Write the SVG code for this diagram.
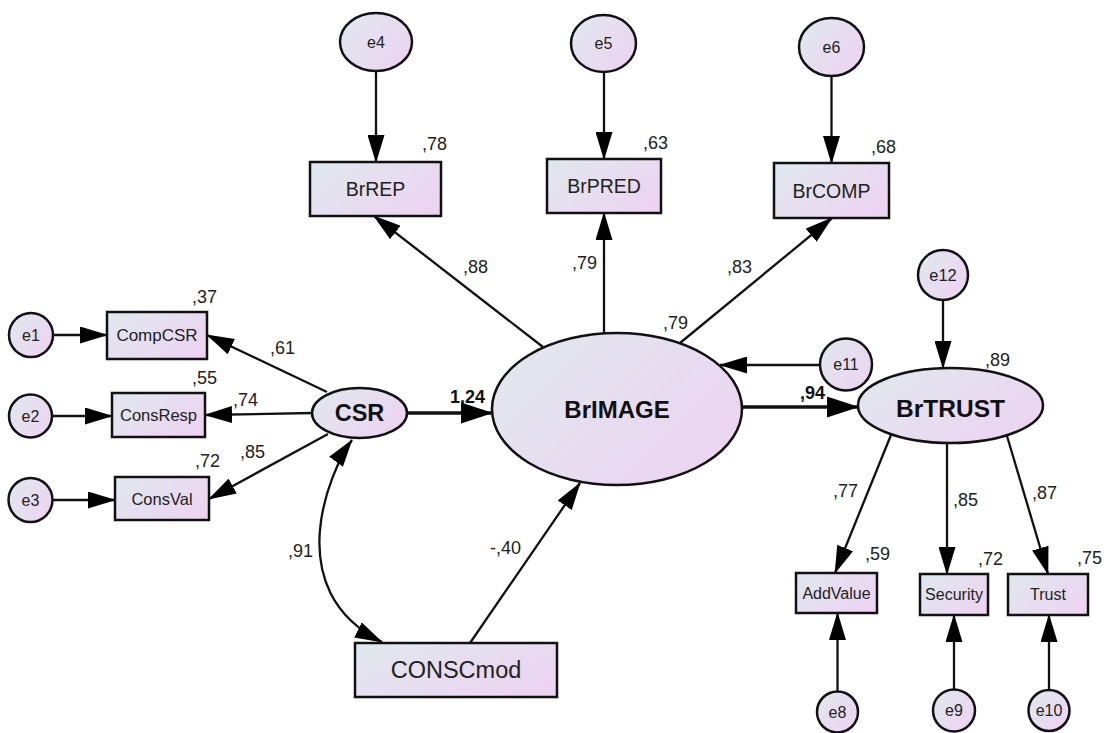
<svg xmlns="http://www.w3.org/2000/svg" width="1107" height="733" viewBox="0 0 1107 733">
<defs>
<linearGradient id="g" x1="0" y1="0.2" x2="1" y2="0.8">
<stop offset="0" stop-color="#e1e7ee"/>
<stop offset="1" stop-color="#edd3f2"/>
</linearGradient>
<marker id="a" markerUnits="userSpaceOnUse" markerWidth="28" markerHeight="17" refX="27" refY="8.5" orient="auto-start-reverse" viewBox="0 0 28 17">
<path d="M0,0 L28,8.5 L0,17 z" fill="#000"/>
</marker>
<marker id="ab" markerUnits="userSpaceOnUse" markerWidth="32" markerHeight="21" refX="31" refY="10.5" orient="auto" viewBox="0 0 32 21">
<path d="M0,0 L32,10.5 L0,21 z" fill="#000"/>
</marker>
</defs>
<style>
.n{fill:url(#g);stroke:#111;stroke-width:2.5}
.t{font-family:"Liberation Sans",Arial,sans-serif;text-anchor:middle;dominant-baseline:central;fill:#222}
.l{font-family:"Liberation Sans",Arial,sans-serif;font-size:18px;fill:#222}
.b{font-weight:bold;fill:#111}
.c line,.c path{stroke:#111;stroke-width:2.3;fill:none;marker-end:url(#a)}
.c .k{stroke-width:3.4;marker-end:url(#ab)}
</style>
<rect width="1107" height="733" fill="#fff"/>
<g class="c" id="connectors">
<line x1="53" y1="335" x2="107" y2="335"/>
<line x1="52" y1="416" x2="112" y2="416"/>
<line x1="52" y1="500" x2="115" y2="500"/>
<line x1="327" y1="392" x2="207" y2="335"/>
<line x1="312" y1="413" x2="205" y2="415"/>
<line x1="328" y1="434" x2="209" y2="499"/>
<line x1="376" y1="71" x2="376" y2="162"/>
<line x1="604" y1="72" x2="604" y2="159"/>
<line x1="831.5" y1="76" x2="831.5" y2="163"/>
<line x1="543" y1="347" x2="374" y2="216"/>
<line x1="604" y1="333" x2="604" y2="213"/>
<line x1="680" y1="343" x2="832" y2="218"/>
<line x1="820" y1="365" x2="720" y2="365"/>
<line class="k" x1="407" y1="413" x2="492" y2="413"/>
<line class="k" x1="742" y1="407" x2="858" y2="407"/>
<line x1="470" y1="643" x2="580" y2="483"/>
<path d="M382,642 C278,590 330,470 352,440" style="marker-start:url(#a)"/>
<line x1="943" y1="300" x2="943" y2="368"/>
<line x1="891" y1="435" x2="835" y2="573"/>
<line x1="947" y1="443" x2="947" y2="574"/>
<line x1="1007" y1="436" x2="1048" y2="574"/>
<line x1="837.5" y1="691.5" x2="837.5" y2="613"/>
<line x1="954" y1="689.5" x2="954" y2="615"/>
<line x1="1049" y1="690" x2="1049" y2="615"/>
</g>
<g id="e1"><circle class="n" cx="31" cy="335" r="22"/><text class="t" x="31" y="335" font-size="16">e1</text></g>
<g id="e2"><circle class="n" cx="30.5" cy="416" r="21.5"/><text class="t" x="30.5" y="416" font-size="16">e2</text></g>
<g id="e3"><circle class="n" cx="30.5" cy="500" r="22"/><text class="t" x="30.5" y="500" font-size="16">e3</text></g>
<g id="CompCSR"><rect class="n" x="107" y="312" width="100" height="47"/><text class="t" x="157" y="335.5" font-size="17">CompCSR</text></g>
<g id="ConsResp"><rect class="n" x="112" y="393" width="93" height="44"/><text class="t" x="158.5" y="415" font-size="16.5">ConsResp</text></g>
<g id="ConsVal"><rect class="n" x="115" y="477" width="94" height="43"/><text class="t" x="162" y="498.5" font-size="16.5">ConsVal</text></g>
<g id="CSR"><ellipse class="n" cx="359.5" cy="413" rx="47.5" ry="25"/><text class="t b" x="359.5" y="413" font-size="23.5">CSR</text></g>
<g id="e4"><ellipse class="n" cx="376" cy="42" rx="36" ry="29"/><text class="t" x="376" y="42" font-size="16">e4</text></g>
<g id="e5"><ellipse class="n" cx="603.5" cy="43.5" rx="32.5" ry="28.5"/><text class="t" x="603.5" y="43.5" font-size="16">e5</text></g>
<g id="e6"><ellipse class="n" cx="831.5" cy="47" rx="32.5" ry="29"/><text class="t" x="831.5" y="47" font-size="16">e6</text></g>
<g id="BrREP"><rect class="n" x="310" y="162" width="131" height="54"/><text class="t" x="375.5" y="189" font-size="19.5">BrREP</text></g>
<g id="BrPRED"><rect class="n" x="547" y="159" width="114" height="54"/><text class="t" x="604" y="186" font-size="19.5">BrPRED</text></g>
<g id="BrCOMP"><rect class="n" x="774" y="163" width="115" height="55"/><text class="t" x="831.5" y="190.5" font-size="19.5">BrCOMP</text></g>
<g id="BrIMAGE"><ellipse class="n" cx="617" cy="409" rx="125" ry="76"/><text class="t b" x="617" y="409" font-size="24">BrIMAGE</text></g>
<g id="e11"><circle class="n" cx="846" cy="364.5" r="26"/><text class="t" x="846" y="364.5" font-size="16">e11</text></g>
<g id="e12"><circle class="n" cx="943" cy="275" r="25"/><text class="t" x="943" y="275" font-size="16.5">e12</text></g>
<g id="BrTRUST"><ellipse class="n" cx="950.5" cy="405.5" rx="92.5" ry="37.5"/><text class="t b" x="950.5" y="408" font-size="24.5">BrTRUST</text></g>
<g id="CONSCmod"><rect class="n" x="355" y="643" width="202" height="54"/><text class="t" x="456" y="670" font-size="23.5">CONSCmod</text></g>
<g id="AddValue"><rect class="n" x="796" y="573" width="81" height="40"/><text class="t" x="836.5" y="593" font-size="16">AddValue</text></g>
<g id="Security"><rect class="n" x="920" y="574" width="68" height="41"/><text class="t" x="954" y="594.5" font-size="16">Security</text></g>
<g id="Trust"><rect class="n" x="1008" y="574" width="80" height="41"/><text class="t" x="1048" y="594.5" font-size="16">Trust</text></g>
<g id="e8"><circle class="n" cx="837.5" cy="712" r="20.5"/><text class="t" x="837.5" y="712" font-size="16">e8</text></g>
<g id="e9"><circle class="n" cx="954" cy="710.5" r="21"/><text class="t" x="954" y="710.5" font-size="16">e9</text></g>
<g id="e10"><circle class="n" cx="1049" cy="710.5" r="20.5"/><text class="t" x="1049" y="710.5" font-size="16">e10</text></g>
<g id="labels">
<text class="l" x="192" y="303">,37</text>
<text class="l" x="192" y="384">,55</text>
<text class="l" x="233" y="406">,74</text>
<text class="l" x="195" y="467">,72</text>
<text class="l" x="240" y="458">,85</text>
<text class="l" x="270" y="354">,61</text>
<text class="l" x="422" y="150">,78</text>
<text class="l" x="643" y="149">,63</text>
<text class="l" x="871" y="153">,68</text>
<text class="l" x="463" y="273">,88</text>
<text class="l" x="572" y="269">,79</text>
<text class="l" x="727" y="273">,83</text>
<text class="l" x="663" y="329">,79</text>
<text class="l b" x="800" y="399">,94</text>
<text class="l b" x="450" y="403">1,24</text>
<text class="l" x="985" y="366">,89</text>
<text class="l" x="288" y="557">,91</text>
<text class="l" x="490" y="554">-,40</text>
<text class="l" x="833" y="497">,77</text>
<text class="l" x="953" y="506">,85</text>
<text class="l" x="1032" y="499">,87</text>
<text class="l" x="865" y="560">,59</text>
<text class="l" x="978" y="565">,72</text>
<text class="l" x="1077" y="564">,75</text>
</g>
</svg>
